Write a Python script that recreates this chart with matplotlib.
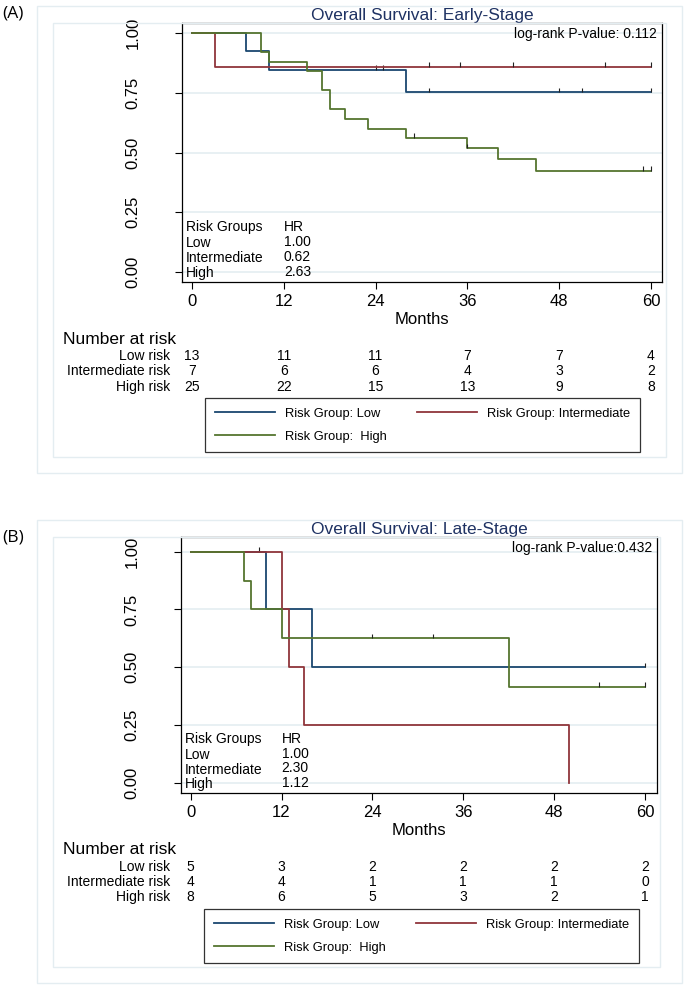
import matplotlib
matplotlib.use('Agg')
import matplotlib.pyplot as plt
from matplotlib.transforms import blended_transform_factory
from matplotlib.lines import Line2D
from matplotlib.patches import Rectangle

plt.rcParams['font.family'] = ['Liberation Sans', 'DejaVu Sans']

W, H = 685, 989

# ---- data ----
months = [0, 12, 24, 36, 48, 60]
yticks = [0.0, 0.25, 0.5, 0.75, 1.0]
group_names = ['Low', 'Intermediate', 'High']
risk_rows = ['Low risk', 'Intermediate risk', 'High risk']

# Early stage
early_low_t = [0, 7, 10, 28]
early_low_s = [1.0, 0.923, 0.846, 0.752]
early_low_cens_t = [24, 25, 31, 48, 51, 60]
early_low_cens_s = [0.846, 0.846, 0.752, 0.752, 0.752, 0.752]
early_int_t = [0, 3]
early_int_s = [1.0, 0.857]
early_int_cens_t = [31, 35, 42, 54, 60]
early_int_cens_s = [0.857, 0.857, 0.857, 0.857, 0.857]
early_high_t = [0, 9, 10, 15, 17, 18, 20, 23, 28, 36, 40, 45]
early_high_s = [1.0, 0.92, 0.88, 0.84, 0.76, 0.68, 0.64, 0.60, 0.56, 0.517, 0.471, 0.424]
early_high_cens_t = [29, 36, 59, 60]
early_high_cens_s = [0.56, 0.517, 0.424, 0.424]
early_hr = ['1.00', '0.62', '2.63']
early_atrisk_low = [13, 11, 11, 7, 7, 4]
early_atrisk_int = [7, 6, 6, 4, 3, 2]
early_atrisk_high = [25, 22, 15, 13, 9, 8]

# Late stage
late_low_t = [0, 10, 16]
late_low_s = [1.0, 0.75, 0.5]
late_low_cens_t = [9, 60]
late_low_cens_s = [1.0, 0.5]
late_int_t = [0, 12, 13, 15, 50]
late_int_s = [1.0, 0.75, 0.5, 0.25, 0.0]
late_int_cens_t = []
late_int_cens_s = []
late_high_t = [0, 7, 8, 12, 42]
late_high_s = [1.0, 0.875, 0.75, 0.625, 0.417]
late_high_cens_t = [24, 32, 54, 60]
late_high_cens_s = [0.625, 0.625, 0.417, 0.417]
late_hr = ['1.00', '2.30', '1.12']
late_atrisk_low = [5, 3, 2, 2, 2, 2]
late_atrisk_int = [4, 4, 1, 1, 1, 0]
late_atrisk_high = [8, 6, 5, 3, 2, 1]

colors = ['#1a476f', '#90353b', '#55752f']
title_col = '#1f3263'
frame_col = '#e4edf1'


def fx(px):
    return px / W


def fy(py):
    return 1 - py / H


fig = plt.figure(figsize=(W / 100, H / 100), dpi=100)


def panel(letter, letter_y, title, pval, curves, hr, atrisk, box, ax_px, xlim, ylim,
          y_rows, leg_px):
    # light frames
    ox0, oy0, ox1, oy1, ix0, iy0, ix1, iy1 = box
    for (a, b, c, d) in [(ox0, oy0, ox1, oy1), (ix0, iy0, ix1, iy1)]:
        fig.patches.append(Rectangle((fx(a), fy(d)), fx(c) - fx(a), fy(b) - fy(d),
                                     transform=fig.transFigure, fill=False,
                                     edgecolor=frame_col, lw=1))
    fig.text(fx(2), fy(letter_y), letter, fontsize=12.5, ha='left', va='center',
             family=['Open Sans', 'DejaVu Sans'])

    l, t, r, b = ax_px
    ax = fig.add_axes([fx(l), fy(b), fx(r) - fx(l), fy(t) - fy(b)])
    ax.set_xlim(*xlim)
    ax.set_ylim(*ylim)
    for yv in yticks:
        ax.axhline(yv, color=frame_col, lw=1.2, zorder=0)
    for (tt, ss, ct, cs), c in zip(curves, colors):
        xs = tt + [60 if ss[-1] > 0 else tt[-1]]
        ys = ss + [ss[-1]]
        ax.step(xs, ys, where='post', color=c, lw=1.3)
        if ct:
            ax.vlines(ct, cs, [v + 0.02 for v in cs], color='#222222', lw=0.8)
    ax.set_xticks(months)
    ax.set_yticks(yticks)
    ax.set_yticklabels(['%.2f' % v for v in yticks], rotation=90, va='center')
    ax.tick_params(axis='both', labelsize=12, length=5, width=0.8, direction='out')
    ax.tick_params(axis='y', pad=25)
    ax.set_xlabel('Months', fontsize=12, labelpad=2)
    for sp in ax.spines.values():
        sp.set_linewidth(0.9)
    ax.set_title(title, fontsize=12.5, color=title_col, pad=1)

    # HR table
    hy = [0.19, 0.12, 0.057, -0.006]
    ax.text(-0.8, hy[0], 'Risk Groups', fontsize=10, ha='left', va='center')
    ax.text(12.0, hy[0], 'HR', fontsize=10, ha='left', va='center')
    for i, (g, v) in enumerate(zip(group_names, hr)):
        ax.text(-0.8, hy[i + 1], g, fontsize=10, ha='left', va='center')
        ax.text(12.0, hy[i + 1] + 0.006, v, fontsize=10, ha='left', va='center')

    ax.text(0.99, 0.985, pval, transform=ax.transAxes, fontsize=10,
            ha='right', va='top')

    # number at risk
    bt = blended_transform_factory(ax.transData, fig.transFigure)
    fig.text(fx(63), fy(y_rows[0]), 'Number at risk', fontsize=12.5, ha='left', va='center')
    for name, row, yp in zip(risk_rows, atrisk, y_rows[1:]):
        fig.text(fx(170), fy(yp), name, fontsize=10, ha='right', va='center')
        for m, n in zip(months, row):
            ax.text(m, fy(yp), str(n), transform=bt, fontsize=10, ha='center', va='center')

    handles = [Line2D([], [], color=colors[0], lw=1.3),
               Line2D([], [], color=colors[2], lw=1.3),
               Line2D([], [], color=colors[1], lw=1.3)]
    labels = ['Risk Group: Low', 'Risk Group:  High', 'Risk Group: Intermediate']
    x0, y0 = leg_px
    leg = fig.legend(handles, labels, ncol=2, loc='upper left',
                     bbox_to_anchor=(fx(x0), fy(y0)),
                     fontsize=9.3, frameon=True, fancybox=False,
                     edgecolor='black', handlelength=4.7, handletextpad=0.75,
                     borderaxespad=0, labelspacing=0.85, borderpad=0.75,
                     columnspacing=2.3)
    leg.get_frame().set_linewidth(0.9)
    return ax


panel('(A)', 14, 'Overall Survival: Early-Stage', 'log-rank P-value: 0.112',
      [(early_low_t, early_low_s, early_low_cens_t, early_low_cens_s),
       (early_int_t, early_int_s, early_int_cens_t, early_int_cens_s),
       (early_high_t, early_high_s, early_high_cens_t, early_high_cens_s)],
      early_hr, [early_atrisk_low, early_atrisk_int, early_atrisk_high],
      (37, 6, 682, 473, 53, 23, 666, 457),
      (182, 23, 662, 282), (-1.31, 61.44), (-0.042, 1.042),
      [339, 356, 371, 387], (205, 398))

panel('(B)', 537, 'Overall Survival: Late-Stage', 'log-rank P-value:0.432',
      [(late_low_t, late_low_s, late_low_cens_t, late_low_cens_s),
       (late_int_t, late_int_s, late_int_cens_t, late_int_cens_s),
       (late_high_t, late_high_s, late_high_cens_t, late_high_cens_s)],
      late_hr, [late_atrisk_low, late_atrisk_int, late_atrisk_high],
      (37, 520, 682, 983, 53, 537, 660, 967),
      (181, 537, 657, 793), (-1.28, 61.6), (-0.043, 1.063),
      [850, 867, 882, 897], (204, 909))

fig.savefig('out.png', dpi=100)
